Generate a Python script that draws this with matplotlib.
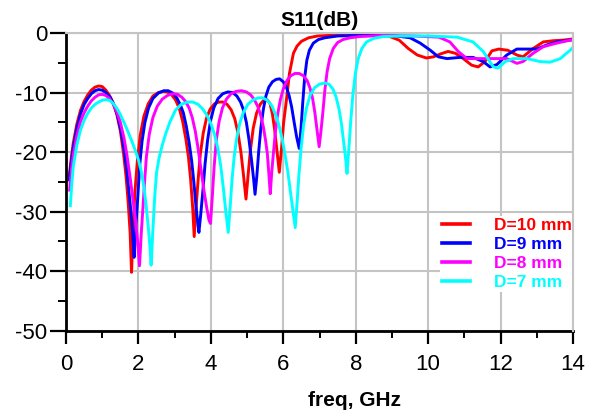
import matplotlib
matplotlib.use("Agg")
import matplotlib.pyplot as plt
from matplotlib.ticker import MultipleLocator

plt.rcParams["font.family"] = ["Liberation Sans", "DejaVu Sans"]
plt.rcParams["axes.unicode_minus"] = False

# Return loss S11 (dB) versus frequency (GHz) for four values of D
freq_d10 = [0.09, 0.15, 0.2, 0.3, 0.4, 0.5, 0.6, 0.7, 0.8, 0.9, 1.0, 1.1, 1.2, 1.3, 1.4,
            1.5, 1.59, 1.66, 1.72, 1.77, 1.81, 1.85, 1.9, 1.97, 2.05, 2.15, 2.27, 2.4,
            2.55, 2.68, 2.8, 2.92, 3.03, 3.13, 3.22, 3.31, 3.38, 3.44, 3.5, 3.54, 3.59,
            3.65, 3.71, 3.79, 3.88, 3.98, 4.1, 4.22, 4.33, 4.45, 4.56, 4.66, 4.75, 4.83,
            4.9, 4.97, 5.03, 5.09, 5.17, 5.26, 5.36, 5.46, 5.55, 5.63, 5.7, 5.76, 5.82,
            5.89, 5.95, 6.01, 6.08, 6.17, 6.28, 6.38, 6.5, 6.7, 6.95, 7.3, 7.8, 8.4,
            8.9, 9.2, 9.45, 9.7, 9.95, 10.15, 10.35, 10.55, 10.75, 10.97, 11.2, 11.38,
            11.57, 11.76, 11.95, 12.2, 12.45, 12.62, 12.9, 13.18, 13.45, 13.73, 14.0]
s11_d10 = [-23.9, -20.8, -18.5, -15.3, -13.0, -11.5, -10.4, -9.6, -9.1, -8.9, -9.0, -9.6,
           -10.5, -11.7, -13.6, -16.4, -20.3, -24.2, -28.7, -33.5, -40.2, -33.5, -27.0,
           -21.5, -17.2, -14.0, -11.9, -10.6, -10.0, -9.8, -9.9, -10.4, -11.3, -12.7,
           -14.8, -17.8, -20.8, -24.5, -29.5, -34.2, -29.5, -24.5, -20.3, -16.8, -14.3,
           -12.8, -11.9, -11.6, -11.6, -12.0, -12.9, -14.4, -16.8, -20.0, -23.8, -27.9,
           -23.8, -19.8, -16.0, -13.5, -12.0, -11.3, -11.2, -11.8, -13.6, -16.2, -19.5,
           -23.4, -19.5, -15.0, -11.6, -6.8, -3.4, -2.2, -1.4, -0.8, -0.5, -0.4, -0.3,
           -0.3, -0.5, -1.2, -2.6, -3.7, -4.2, -4.0, -3.5, -3.1, -3.4, -4.3, -5.4, -5.7,
           -4.8, -3.0, -2.7, -2.9, -3.7, -4.0, -2.6, -1.5, -1.3, -1.2, -1.0]

freq_d9 = [0.09, 0.15, 0.2, 0.3, 0.4, 0.5, 0.6, 0.7, 0.8, 0.9, 1.0, 1.1, 1.22, 1.32, 1.42,
           1.52, 1.6, 1.68, 1.74, 1.79, 1.84, 1.88, 1.93, 1.97, 2.04, 2.1, 2.18, 2.28,
           2.4, 2.55, 2.7, 2.82, 2.95, 3.06, 3.16, 3.24, 3.32, 3.4, 3.47, 3.53, 3.58,
           3.63, 3.67, 3.72, 3.78, 3.84, 3.91, 3.99, 4.08, 4.2, 4.33, 4.47, 4.6, 4.72,
           4.82, 4.9, 4.98, 5.05, 5.12, 5.18, 5.22, 5.27, 5.32, 5.38, 5.45, 5.52, 5.6,
           5.7, 5.8, 5.9, 6.0, 6.08, 6.16, 6.23, 6.3, 6.37, 6.44, 6.49, 6.54, 6.59, 6.65,
           6.72, 6.83, 6.97, 7.15, 7.5, 8.2, 9.0, 9.5, 9.78, 10.06, 10.28, 10.52, 10.88,
           11.24, 11.52, 11.71, 11.9, 12.17, 12.45, 12.73, 13.0, 13.28, 13.55, 13.92, 14.0]
s11_d9 = [-24.7, -21.5, -19.3, -16.0, -13.6, -12.0, -11.0, -10.2, -9.7, -9.5, -9.6, -10.0,
          -10.8, -12.0, -13.8, -16.5, -19.4, -23.1, -26.8, -29.8, -33.5, -37.7, -32.5,
          -28.7, -21.9, -18.2, -15.0, -12.6, -11.0, -10.1, -9.7, -9.7, -10.1, -10.9,
          -12.1, -13.4, -15.6, -18.4, -21.5, -25.0, -28.5, -31.5, -33.5, -30.5, -26.5,
          -22.0, -18.0, -14.8, -12.6, -11.0, -10.2, -9.9, -10.0, -10.6, -11.6, -12.9,
          -15.0, -17.8, -21.2, -24.5, -27.1, -24.0, -20.0, -16.0, -12.8, -10.6, -9.1,
          -8.2, -7.8, -7.7, -8.2, -9.0, -10.5, -12.4, -15.0, -17.5, -19.4, -16.0, -11.5,
          -7.5, -4.6, -2.9, -1.7, -1.1, -0.8, -0.5, -0.4, -0.4, -0.8, -1.7, -2.9, -4.0,
          -4.3, -4.1, -4.1, -4.8, -5.7, -5.3, -3.7, -2.7, -2.7, -2.7, -2.0, -1.5, -1.2, -1.1]

freq_d8 = [0.1, 0.15, 0.2, 0.3, 0.4, 0.5, 0.6, 0.7, 0.8, 0.9, 1.0, 1.1, 1.2, 1.3, 1.4, 1.5,
           1.6, 1.68, 1.76, 1.84, 1.91, 1.97, 2.03, 2.08, 2.12, 2.17, 2.22, 2.3, 2.4, 2.52,
           2.66, 2.8, 2.95, 3.08, 3.2, 3.3, 3.4, 3.49, 3.57, 3.65, 3.73, 3.81, 3.89, 3.95,
           3.99, 4.04, 4.09, 4.15, 4.23, 4.32, 4.43, 4.56, 4.7, 4.84, 4.98, 5.1, 5.2, 5.3,
           5.38, 5.45, 5.51, 5.56, 5.6, 5.64, 5.68, 5.73, 5.78, 5.84, 5.92, 6.0, 6.1, 6.2,
           6.32, 6.44, 6.56, 6.66, 6.74, 6.81, 6.87, 6.93, 6.99, 7.04, 7.09, 7.15, 7.21,
           7.28, 7.38, 7.5, 7.65, 7.85, 8.1, 8.8, 9.6, 10.3, 10.6, 10.83, 11.07, 11.44,
           11.8, 12.17, 12.45, 12.62, 12.9, 13.18, 13.55, 13.92, 14.0]
s11_d8 = [-26.4, -23.0, -20.5, -17.2, -14.9, -13.4, -12.3, -11.4, -10.8, -10.4, -10.3,
          -10.5, -11.0, -11.9, -13.2, -15.0, -17.6, -20.4, -23.8, -27.5, -30.9, -34.5,
          -39.1, -33.5, -29.8, -25.0, -20.8, -17.0, -14.2, -12.3, -11.1, -10.5, -10.2,
          -10.3, -10.8, -11.5, -12.6, -14.3, -16.5, -19.5, -23.0, -26.5, -29.5, -31.5,
          -32.0, -27.5, -22.5, -18.0, -14.8, -12.6, -11.1, -10.2, -9.8, -9.7, -9.9,
          -10.4, -11.2, -12.4, -13.9, -15.8, -18.0, -20.3, -23.5, -27.0, -23.5, -20.0,
          -16.8, -13.8, -11.2, -9.4, -8.0, -7.2, -6.8, -6.8, -7.2, -8.0, -9.3, -11.0,
          -13.3, -16.2, -19.1, -16.5, -13.5, -9.5, -6.5, -4.3, -2.6, -1.6, -1.1, -0.8,
          -0.6, -0.4, -0.5, -0.7, -1.5, -3.1, -4.3, -4.3, -4.3, -4.3, -5.1, -4.8, -3.4,
          -2.3, -1.7, -1.2, -1.1]

freq_d7 = [0.12, 0.16, 0.2, 0.3, 0.4, 0.5, 0.6, 0.7, 0.8, 0.9, 1.0, 1.1, 1.2, 1.3, 1.4,
           1.5, 1.6, 1.7, 1.8, 1.9, 2.0, 2.08, 2.15, 2.21, 2.27, 2.32, 2.35, 2.4, 2.45,
           2.5, 2.57, 2.66, 2.76, 2.88, 3.02, 3.18, 3.35, 3.5, 3.65, 3.78, 3.9, 4.0, 4.1,
           4.19, 4.27, 4.34, 4.41, 4.48, 4.53, 4.58, 4.64, 4.71, 4.8, 4.9, 5.02, 5.15,
           5.3, 5.43, 5.56, 5.68, 5.78, 5.88, 5.97, 6.05, 6.13, 6.2, 6.27, 6.33, 6.38,
           6.43, 6.49, 6.56, 6.64, 6.74, 6.86, 7.0, 7.14, 7.26, 7.37, 7.46, 7.54, 7.61,
           7.67, 7.72, 7.76, 7.81, 7.86, 7.92, 7.99, 8.07, 8.17, 8.3, 8.5, 8.76, 9.2,
           10.0, 10.8, 11.24, 11.52, 11.8, 11.93, 12.13, 12.35, 12.73, 13.09, 13.37,
           13.65, 13.92, 14.0]
s11_d7 = [-29.0, -25.3, -22.5, -18.8, -16.3, -14.7, -13.5, -12.6, -12.0, -11.6, -11.3,
          -11.2, -11.3, -11.8, -12.6, -13.7, -15.0, -16.4, -17.9, -19.5, -21.3, -23.3,
          -25.8, -28.8, -32.5, -36.0, -39.0, -33.0, -27.5, -23.5, -21.0, -18.8, -16.8,
          -14.8, -13.0, -12.0, -11.6, -11.6, -12.0, -12.8, -13.9, -15.2, -17.0, -19.3,
          -22.2, -25.8, -29.8, -33.5, -29.5, -25.0, -21.0, -17.8, -15.1, -13.3, -12.0,
          -11.3, -10.9, -10.9, -11.3, -12.2, -13.6, -15.5, -17.8, -20.5, -23.5, -26.8,
          -30.0, -32.7, -28.5, -24.0, -19.5, -15.5, -12.6, -10.5, -9.2, -8.6, -8.4,
          -8.6, -9.4, -10.8, -12.8, -15.4, -18.5, -21.0, -23.6, -19.5, -15.0, -10.5,
          -6.8, -4.3, -2.6, -1.5, -0.9, -0.6, -0.5, -0.5, -0.7, -1.5, -3.1, -5.7, -5.9,
          -4.8, -4.3, -4.3, -4.8, -4.9, -4.3, -2.9, -2.4]

series_labels = ["D=10 mm", "D=9 mm", "D=8 mm", "D=7 mm"]
series_colors = ["#ff0000", "#0000ff", "#ff00ff", "#00ffff"]

fig = plt.figure(figsize=(5.92, 4.12), dpi=100)
ax = fig.add_axes([66 / 592, 1 - 330.6 / 412, 507 / 592, 297.6 / 412])

for fx, sy, lab, col in zip([freq_d10, freq_d9, freq_d8, freq_d7],
                            [s11_d10, s11_d9, s11_d8, s11_d7],
                            series_labels, series_colors):
    ax.plot(fx, sy, color=col, lw=2.1, label=lab, solid_joinstyle="round")

ax.set_xlim(0, 14)
ax.set_ylim(-50, 0)
ax.xaxis.set_major_locator(MultipleLocator(2))
ax.xaxis.set_minor_locator(MultipleLocator(1))
ax.yaxis.set_major_locator(MultipleLocator(10))
ax.yaxis.set_minor_locator(MultipleLocator(5))

ax.set_axisbelow(True)
ax.grid(True, which="major", color="#c4c4c4", lw=1.5)

for side in ("left", "bottom"):
    ax.spines[side].set_color("black")
    ax.spines[side].set_linewidth(2.0)
for side in ("top", "right"):
    ax.spines[side].set_color("#c4c4c4")
    ax.spines[side].set_linewidth(1.5)
    ax.spines[side].set_zorder(6)

ax.tick_params(axis="y", which="major", length=11.5, width=1.6, pad=2, labelsize=16)
ax.tick_params(axis="y", which="minor", length=6, width=1.4)
ax.tick_params(axis="x", which="major", length=9.5, width=1.6, pad=7.5, labelsize=16)
ax.tick_params(axis="x", which="minor", length=5, width=1.4)

ax.set_title("S11(dB)", fontsize=15, fontweight="bold", pad=5)
ax.set_xlabel("freq, GHz", fontsize=15, fontweight="bold")
ax.xaxis.set_label_coords((355 - 66) / 507, -0.203)

leg = ax.legend(loc="upper left", bbox_to_anchor=((440.3 - 66) / 507, (330.6 - 216) / 297.6),
                borderaxespad=0, borderpad=0.1, handlelength=1.61, handletextpad=1.38,
                labelspacing=0.22, labelcolor="linecolor", fancybox=False,
                prop={"weight": "bold", "size": 12.5})
leg.get_frame().set_edgecolor("none")
leg.get_frame().set_facecolor("white")
leg.get_frame().set_alpha(1)
for h in leg.get_lines():
    h.set_linewidth(2.6)

fig.savefig("out.png", dpi=100)
